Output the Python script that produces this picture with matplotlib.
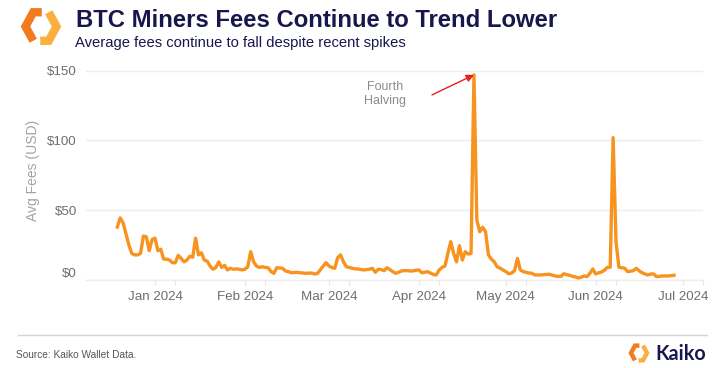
import matplotlib
matplotlib.use('Agg')
import matplotlib.pyplot as plt
import pandas as pd
from matplotlib.transforms import ScaledTranslation

# ---------------- data ----------------
start_date = '2023-12-19'
fees = [
    38, 44.5, 41, 33, 25, 19, 18, 18, 19, 31.5, 31, 21, 29,          # Dec 19 - Dec 31
    30, 21, 22, 15, 15, 14.3, 12.4, 12.4, 17.7, 15.5, 13, 14.3, 17,  # Jan 1 - 13
    16.3, 30, 18, 19.5, 14.3, 13.5, 10, 7.7, 9, 13, 9, 10.5, 7.2,    # Jan 14 - 26
    8.4, 7.7, 8, 7.7, 7.2,                                           # Jan 27 - 31
    7.7, 9.5, 20.3, 13, 10, 9, 9.5, 9, 8.8, 6, 4.8, 8.8, 8.6, 8.4,   # Feb 1 - 14
    6.5, 6, 5.2, 5.4, 5.5, 5.2, 5.0, 4.8, 4.9, 5, 4.3, 4.6, 7.2, 10, 12.4,  # Feb 15 - 29
    10, 9, 8.4, 16, 18, 13, 9.5, 9, 8.4, 8, 7.9, 7.5, 7.2, 7.5, 7.7, 8.4,  # Mar 1 - 16
    5.5, 7.7, 7.5, 6.7, 8.8, 7.5, 6, 4.8, 5.5, 6.5, 6.7, 6.7, 6.5, 6.5, 7,  # Mar 17 - 31
    7.2, 5.2, 5.5, 6, 5, 4, 3.6, 7.2, 9, 10, 19, 27.5, 19, 13, 24.6,  # Apr 1 - 15
    14.3, 20.3, 18.6, 19, 147, 43, 34.6, 37.8, 34.6, 18, 15, 13, 9.5, 8.5, 7.2,  # Apr 16 - 30
    6, 4.5, 5, 6.7, 15.5, 7.2, 6, 5.5, 5, 4.8, 3.6, 3.6, 3.6, 3.8, 4, 4.1,  # May 1 - 16
    3.5, 2.9, 2.6, 2.6, 4.5, 3.8, 3.4, 2.6, 2.2, 1.5, 2.0, 2.9, 2.4, 4.8, 7.9,  # May 17 - 31
    4.3, 5.2, 5.7, 7, 9.1, 9.1, 102, 27.5, 9.1, 8.8, 8.4, 6, 6.3, 6.7,  # Jun 1 - 14
    8.4, 6.5, 5.2, 4.3, 3.6, 4.3, 4.3, 2.4, 2.6, 2.9, 2.9, 2.9, 3.1, 3.4,  # Jun 15 - 28
]
dates = pd.date_range(start_date, periods=len(fees), freq='D')

y_ticks = [0, 50, 100, 150]
y_tick_labels = ['$0', '$50', '$100', '$150']
month_ticks = pd.date_range('2024-01-01', '2024-07-01', freq='MS')
month_labels = [d.strftime('%b %Y') for d in month_ticks]
halving_date = pd.Timestamp('2024-04-20')
halving_value = fees[dates.get_loc(halving_date)]

title = 'BTC Miners Fees Continue to Trend Lower'
subtitle = 'Average fees continue to fall despite recent spikes'
source = 'Source: Kaiko Wallet Data.'

# ---------------- style ----------------
plt.rcParams['font.family'] = ['Liberation Sans', 'DejaVu Sans']
W, H = 715, 368
NAVY = '#17164d'
ORANGE = '#F7931E'

fig = plt.figure(figsize=(W / 100, H / 100), dpi=100)
fig.patch.set_facecolor('white')

ax = fig.add_axes([86 / W, 1 - 280 / H, (703 - 86) / W, (280 - 69.3) / H])
ax.plot(dates, fees, color=ORANGE, lw=2.4, solid_joinstyle='round', zorder=3)

jan1 = pd.Timestamp('2024-01-01')
ax.set_xlim(jan1 - pd.Timedelta(days=23.8), jan1 + pd.Timedelta(days=189))
ax.set_ylim(0, 151)
ax.set_yticks(y_ticks, y_tick_labels)
ax.set_xticks(month_ticks, month_labels)
ax.set_xticks(month_ticks + pd.Timedelta(days=7), minor=True)

ax.grid(axis='y', color='#ededed', lw=1)
ax.set_axisbelow(True)
for s in ['top', 'right', 'left']:
    ax.spines[s].set_visible(False)
ax.spines['bottom'].set_color('#ededed')
ax.spines['bottom'].set_linewidth(1)
ax.tick_params(axis='y', length=0, pad=6.5, labelsize=9.6, labelcolor='#6e6e6e')
ax.tick_params(axis='x', which='both', length=3.6, width=0.8, color='#e6e6e6',
               pad=4.3, labelsize=9.6, labelcolor='#6e6e6e')

# shift the $0 label up a bit as in the reference
lbl0 = ax.yaxis.get_major_ticks()[0].label1
lbl0.set_transform(lbl0.get_transform() + ScaledTranslation(0, 8 / 100, fig.dpi_scale_trans))

# annotation
ax.annotate('', xy=(halving_date, halving_value), xytext=(-30.2, -14.4),
            textcoords='offset points',
            arrowprops=dict(arrowstyle='-|>', color='#e8201a', lw=1,
                            mutation_scale=11, shrinkA=0, shrinkB=0), zorder=5)
ax.annotate('Fourth\nHalving', xy=(halving_date, halving_value), xytext=(-64.3, -13.7),
            textcoords='offset points', ha='center', va='center', fontsize=9,
            color='#8c8c8c', linespacing=1.25)

# texts
fig.text(76 / W, 1 - 26.7 / H, title, fontsize=17.2, weight='bold', color=NAVY, va='baseline')
fig.text(75 / W, 1 - 47.5 / H, subtitle, fontsize=10.6, color=NAVY, va='baseline')
fig.text(33 / W, 1 - 170 / H, 'Avg Fees (USD)', rotation=90, ha='center', va='center',
         fontsize=10, color='#a3a3a3')
fig.text(16 / W, 1 - 358 / H, source, fontsize=7.3, color='#555555', va='baseline')

# decoration layer (pixel coordinates)
deco = fig.add_axes([0, 0, 1, 1], zorder=10)
deco.set_xlim(0, W)
deco.set_ylim(H, 0)
deco.axis('off')
deco.patch.set_alpha(0)
deco.plot([18, 707], [335, 335], color='#d4d4d4', lw=1)


def logo(cx, cy, R, lw):
    hw = R
    hh = R * 0.92
    v = {
        'r': (cx + hw, cy), 'tr': (cx + hw / 2, cy - hh), 'tl': (cx - hw / 2, cy - hh),
        'l': (cx - hw, cy), 'bl': (cx - hw / 2, cy + hh), 'br': (cx + hw / 2, cy + hh),
    }
    left = [(cx + hw * 0.05, cy - hh), v['tl'], v['l'], v['bl']]
    right = [(cx - hw * 0.05, cy + hh), v['br'], v['r'], v['tr']]
    deco.plot(*zip(*left), color='#F47A20', lw=lw, solid_joinstyle='miter', solid_capstyle='butt')
    deco.plot(*zip(*right), color='#FBAF3F', lw=lw, solid_joinstyle='miter', solid_capstyle='butt')


logo(41, 26.5, 15.5, 6.0)
logo(639, 353, 8.0, 3.2)
fig.text(655 / W, 1 - 359.5 / H, 'Kaiko', fontsize=14.2, weight='bold', color=NAVY,
         va='baseline', family=['Lato', 'DejaVu Sans'])

fig.savefig('out.png', dpi=100, facecolor='white')
